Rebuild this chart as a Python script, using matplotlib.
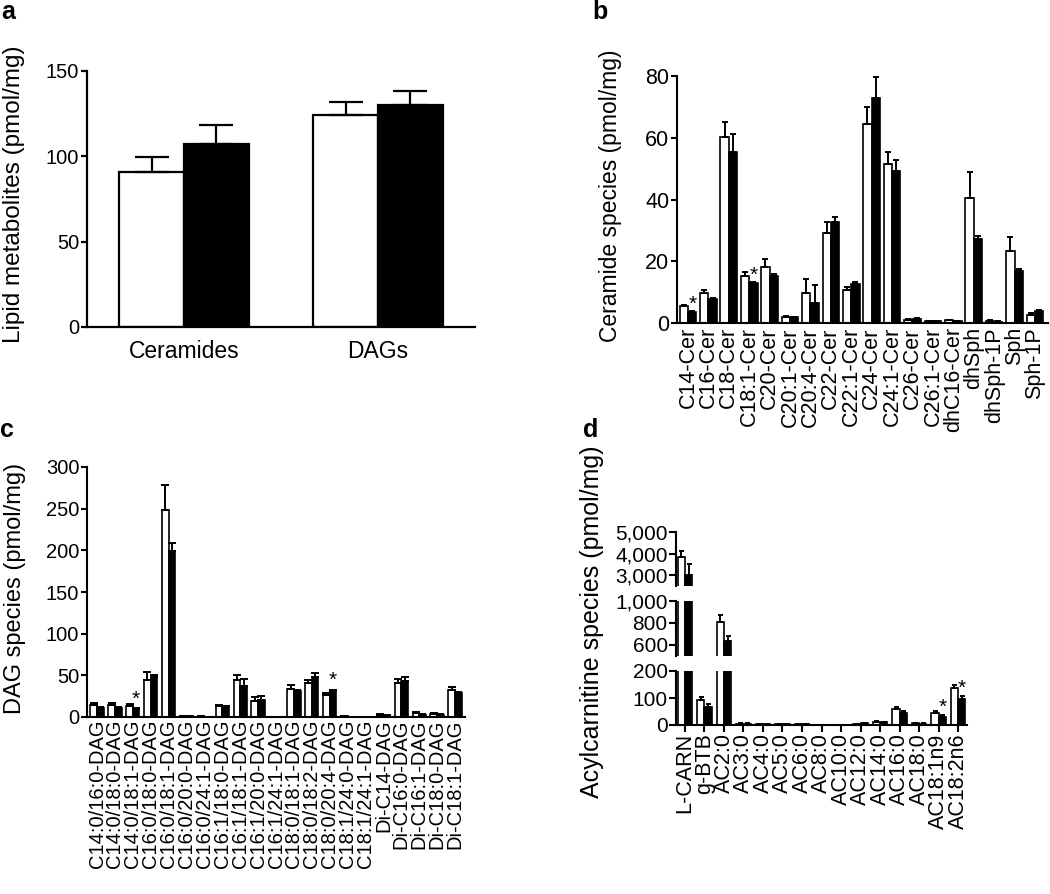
import numpy as np
import matplotlib
matplotlib.use("Agg")
import matplotlib.pyplot as plt
from matplotlib.ticker import FixedLocator, FuncFormatter

plt.rcParams['font.family'] = ['Liberation Sans', 'DejaVu Sans']

# ---------------- data ----------------
a_cats = ['Ceramides', 'DAGs']
a_white = [91, 124.5]
a_white_err = [8.5, 7.5]
a_black = [107, 130]
a_black_err = [11.5, 8]

b_cats = ['C14-Cer', 'C16-Cer', 'C18-Cer', 'C18:1-Cer', 'C20-Cer', 'C20:1-Cer',
          'C20:4-Cer', 'C22-Cer', 'C22:1-Cer', 'C24-Cer', 'C24:1-Cer', 'C26-Cer',
          'C26:1-Cer', 'dhC16-Cer', 'dhSph', 'dhSph-1P', 'Sph', 'Sph-1P']
b_white = [5.4, 9.6, 60.3, 15.2, 18.2, 1.9, 9.8, 29.0, 10.6, 64.6, 51.6, 1.1,
           0.6, 0.9, 40.6, 0.7, 23.2, 2.6]
b_white_err = [0.4, 1.2, 4.9, 1.3, 2.4, 0.3, 4.6, 3.7, 0.9, 5.4, 3.8, 0.2,
               0.1, 0.2, 8.3, 0.2, 4.8, 0.5]
b_black = [3.6, 7.7, 55.4, 12.8, 15.2, 1.8, 6.4, 32.7, 12.6, 73.0, 49.3, 1.4,
           0.6, 0.6, 27.3, 0.4, 17.0, 3.8]
b_black_err = [0.3, 0.4, 5.8, 0.5, 0.6, 0.2, 6.0, 1.7, 0.6, 6.7, 3.4, 0.2,
               0.1, 0.1, 0.8, 0.1, 0.5, 0.4]
b_star = [1, 0, 0, 1, 0, 0, 0, 0, 0, 0, 0, 0, 0, 0, 0, 0, 0, 0]

c_cats = ['C14:0/16:0-DAG', 'C14:0/18:0-DAG', 'C14:0/18:1-DAG', 'C16:0/18:0-DAG',
          'C16:0/18:1-DAG', 'C16:0/20:0-DAG', 'C16:0/24:1-DAG', 'C16:1/18:0-DAG',
          'C16:1/18:1-DAG', 'C16:1/20:0-DAG', 'C16:1/24:1-DAG', 'C18:0/18:1-DAG',
          'C18:0/18:2-DAG', 'C18:0/20:4-DAG', 'C18:1/24:0-DAG', 'C18:1/24:1-DAG',
          'Di-C14-DAG', 'Di-C16:0-DAG', 'Di-C16:1-DAG', 'Di-C18:0-DAG', 'Di-C18:1-DAG']
c_white = [14.8, 14.8, 13.6, 44.7, 248, 1.0, 0.5, 13.6, 44.7, 18.7, 0.2, 33.5,
           40.5, 26.7, 1.0, 0.3, 2.8, 40.8, 4.8, 4.0, 32.7]
c_white_err = [1.5, 1.5, 2.0, 9.9, 30, 0.3, 0.2, 1.4, 5.9, 5.2, 0.1, 5.2,
               3.5, 2.0, 0.3, 0.1, 0.5, 4.7, 0.8, 0.6, 3.8]
c_black = [10.8, 10.8, 9.6, 48.6, 199.5, 0.5, 0.3, 12.7, 37.5, 19.9, 0.2, 31.5,
           48.0, 31.5, 0.3, 0.3, 1.6, 42.7, 2.8, 2.8, 28.7]
c_black_err = [0.8, 0.8, 0.8, 1.5, 9.5, 0.2, 0.1, 0.8, 8.0, 4.8, 0.1, 1.0,
               5.0, 1.2, 0.1, 0.1, 0.3, 5.9, 0.5, 0.5, 1.0]
c_star = [0, 0, 1, 0, 0, 0, 0, 0, 0, 0, 0, 0, 0, 1, 0, 0, 0, 0, 0, 0, 0]

d_cats = ['L-CARN', 'g-BTB', 'AC2:0', 'AC3:0', 'AC4:0', 'AC5:0', 'AC6:0', 'AC8:0',
          'AC10:0', 'AC12:0', 'AC14:0', 'AC16:0', 'AC18:0', 'AC18:1n9', 'AC18:2n6']
d_white = [3840, 92, 805, 5, 3, 2, 3, 1, 1, 4, 12, 60, 7, 44, 137]
d_white_err = [280, 11, 65, 1, 0.5, 0.5, 0.5, 0.3, 0.3, 1, 2, 6, 1, 7, 10]
d_black = [3000, 66, 637, 5, 3, 2, 3, 1, 1, 7, 10, 46, 5, 30, 96]
d_black_err = [510, 12, 47, 1, 0.5, 0.5, 0.5, 0.3, 0.3, 1, 2, 6, 1, 6, 10]
d_star = [0, 0, 0, 0, 0, 0, 0, 0, 0, 0, 0, 0, 0, 1, 1]
d_segments = [(0, 200), (500, 1000), (2500, 5000)]
d_seg_ticks = [[0, 100, 200], [600, 800, 1000], [3000, 4000, 5000]]

# ---------------- figure ----------------
W, H = 1050, 894
fig = plt.figure(figsize=(W / 100, H / 100), dpi=100)


def ax_px(left, top, right, bottom):
    return fig.add_axes([left / W, 1 - bottom / H, (right - left) / W, (bottom - top) / H])


def style(ax, lw=1.5, xticks=False, ticklen=4.5, fs=14):
    for s in ['top', 'right']:
        ax.spines[s].set_visible(False)
    for s in ['left', 'bottom']:
        ax.spines[s].set_linewidth(lw)
    ax.tick_params(axis='y', length=ticklen, width=lw, pad=1, labelsize=fs)
    if xticks:
        ax.tick_params(axis='x', length=ticklen, width=lw, pad=1)
    else:
        ax.tick_params(axis='x', length=0)


def draw_pairs(ax, white, werr, black, berr, width, lw, capsize, elw):
    x = np.arange(len(white))
    ax.bar(x - width / 2, white, width, color='white', edgecolor='black', linewidth=lw, zorder=2)
    ax.bar(x + width / 2, black, width, color='black', edgecolor='black', linewidth=lw, zorder=2)
    ax.errorbar(x - width / 2, white, yerr=[np.zeros(len(werr)), werr], fmt='none',
                ecolor='black', elinewidth=elw, capsize=capsize, capthick=elw, zorder=3)
    ax.errorbar(x + width / 2, black, yerr=[np.zeros(len(berr)), berr], fmt='none',
                ecolor='black', elinewidth=elw, capsize=capsize, capthick=elw, zorder=3)
    return x


def stars(ax, x, black, berr, flags, width, dy, fs=15):
    for xi, v, e, f in zip(x, black, berr, flags):
        if f:
            ax.annotate('*', (xi + width / 2, v + e), xytext=(0, dy), textcoords='offset points',
                        ha='center', va='bottom', fontsize=fs)


# ---- panel a ----
axa = ax_px(87, 71, 475, 327)
wa = 0.335
draw_pairs(axa, a_white, a_white_err, a_black, a_black_err, wa, 1.6, 12, 1.6)
axa.set_xlim(-0.5, 1.5)
axa.set_ylim(0, 150)
axa.set_yticks([0, 50, 100, 150])
axa.set_xticks(np.arange(len(a_cats)))
axa.set_xticklabels(a_cats, fontsize=16.5)
style(axa, lw=1.6, ticklen=4.5, fs=14.5)
axa.tick_params(axis='x', pad=9)
fig.text(14 / W, 1 - 194 / H, 'Lipid metabolites (pmol/mg)', rotation=90,
         ha='center', va='center', fontsize=17.5)

# ---- panel b ----
axb = ax_px(677, 76, 1048, 323)
wb = 0.41
xb = draw_pairs(axb, b_white, b_white_err, b_black, b_black_err, wb, 1.2, 2.4, 1.4)
axb.set_xlim(-0.54, len(b_cats) - 1 + 0.64)
axb.set_ylim(0, 80)
axb.set_yticks([0, 20, 40, 60, 80])
axb.set_xticks(xb)
axb.set_xticklabels(b_cats, rotation=90, fontsize=15.5)
style(axb, lw=1.5, ticklen=4.5, fs=15.5)
axb.tick_params(axis='x', pad=3)
stars(axb, xb, b_black, b_black_err, b_star, wb, -2)
fig.text(610 / W, 1 - 196 / H, 'Ceramide species (pmol/mg)', rotation=90,
         ha='center', va='center', fontsize=16.5)

# ---- panel c ----
axc = ax_px(87, 467, 465, 717)
wc = 0.37
xc = draw_pairs(axc, c_white, c_white_err, c_black, c_black_err, wc, 1.2, 3.2, 1.4)
axc.set_xlim(-0.56, len(c_cats) - 1 + 0.56)
axc.set_ylim(0, 300)
axc.set_yticks([0, 50, 100, 150, 200, 250, 300])
axc.set_xticks(xc)
axc.set_xticklabels(c_cats, rotation=90, fontsize=14.5)
style(axc, lw=1.5, ticklen=4.5, fs=14.5)
axc.tick_params(axis='x', pad=2)
stars(axc, xc, c_black, c_black_err, c_star, wc, 0)
fig.text(15 / W, 1 - 588 / H, 'DAG species (pmol/mg)', rotation=90,
         ha='center', va='center', fontsize=17)

# ---- panel d (broken axis) ----
seg_px = [(671, 725), (601, 656), (532, 586)]
wd = 0.38
fmt = FuncFormatter(lambda v, p: f'{int(v):,}')
for i, ((top, bot), (lo, hi), tks) in enumerate(zip(seg_px, d_segments, d_seg_ticks)):
    ax = ax_px(676, top, 967, bot)
    xd = draw_pairs(ax, d_white, d_white_err, d_black, d_black_err, wd, 1.2, 1.8, 1.4)
    ax.set_xlim(-0.46, len(d_cats) - 1 + 0.46)
    ax.set_ylim(lo, hi)
    ax.yaxis.set_major_locator(FixedLocator(tks))
    ax.yaxis.set_major_formatter(fmt)
    style(ax, lw=1.5, xticks=(i == 0), ticklen=5, fs=15)
    if i == 0:
        ax.set_xticks(xd)
        ax.set_xticklabels(d_cats, rotation=90, fontsize=15.5)
        ax.tick_params(axis='x', pad=1)
        stars(ax, xd, d_black, d_black_err, d_star, wd, -1)
    else:
        ax.spines['bottom'].set_visible(False)
        ax.set_xticks([])
    ax.patch.set_alpha(0)
fig.text(592 / W, 1 - 622 / H, 'Acylcarnitine species (pmol/mg)', rotation=90,
         ha='center', va='center', fontsize=18)

# ---- panel letters ----
for lab, (x, y) in zip(['a', 'b', 'c', 'd'], [(8, 12), (600, 12), (7, 430), (591, 430)]):
    fig.text(x / W, 1 - y / H, lab, fontsize=18, fontweight='bold', ha='center', va='center')

fig.savefig('out.png', dpi=100)
